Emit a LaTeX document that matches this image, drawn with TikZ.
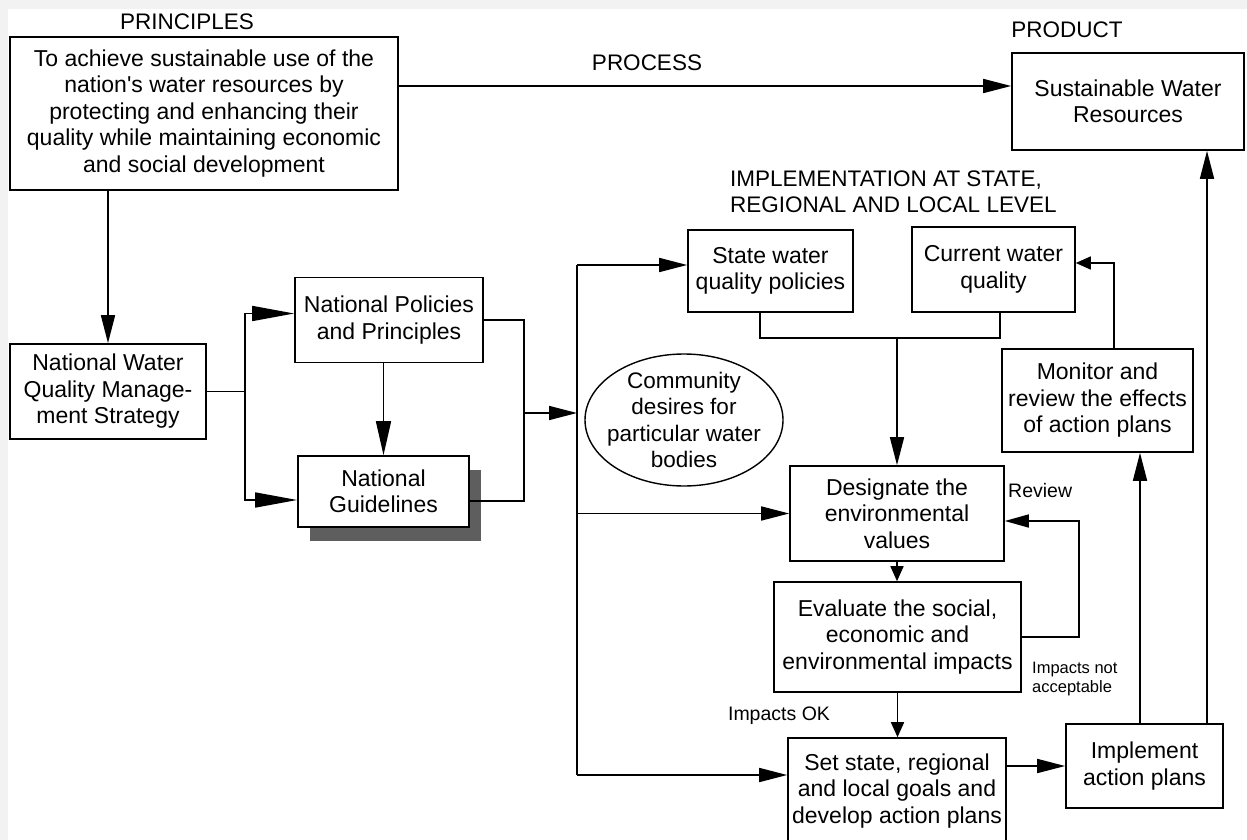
\documentclass[tikz,border=0pt]{standalone}
\usepackage{fontspec}
\setmainfont{Liberation Sans}
\usetikzlibrary{arrows.meta,shadows,shapes.geometric,calc}
\definecolor{bggray}{HTML}{F2F2F2}
\definecolor{shade}{HTML}{5E5E5E}
\tikzset{
  box/.style={draw, line width=1.6pt, fill=white, inner sep=0pt, align=center,
    font=\fontsize{23}{26.5}\selectfont},
  ell/.style={draw, ellipse, line width=1.4pt, fill=white, inner xsep=-12pt, inner ysep=-8pt, align=center,
    font=\fontsize{22.5}{26.5}\selectfont},
  heading/.style={inner sep=0pt, font=\fontsize{22.5}{26}\selectfont},
  conn/.style={line width=1.6pt},
  arr/.style={conn, -{Triangle[length=28pt,width=14pt]}},
  arrb/.style={conn, -{Triangle[length=34pt,width=15pt]}},
  longarr/.style={conn, -{Triangle[length=42pt,width=15pt]}},
  rarr/.style={conn, -{Triangle[length=24pt,width=13pt]}},
  sarr/.style={conn, -{Triangle[length=15pt,width=13pt]}},
}
\begin{document}
\begin{tikzpicture}[x=1pt,y=-1pt]
\useasboundingbox (0,0) rectangle (1247,840);
\clip (0,0) rectangle (1247,840);
\fill[bggray] (0,0) rectangle (1247,840);
\fill[white] (8,9) rectangle (1247,840);

% labels
\node[heading, anchor=base] (lprin) at (187,30) {PRINCIPLES};
\node[heading, anchor=base] (lproc) at (647,71) {PROCESS};
\node[heading, anchor=base] (lprod) at (1067,38) {PRODUCT};
\node[heading, anchor=west, align=left] (limpl) at (730,192) {IMPLEMENTATION AT STATE,\\REGIONAL AND LOCAL LEVEL};

% boxes
\node[box, minimum width=388pt, minimum height=153pt] (princ) at (204,113.5)
  {To achieve sustainable use of the\\nation\textquotesingle s water resources by\\protecting and enhancing their\\quality while maintaining economic\\and social development};
\node[box, minimum width=232pt, minimum height=97pt] (product) at (1128,101.5)
  {Sustainable Water\\Resources};
\node[box, minimum width=196pt, minimum height=95pt] (nwqms) at (108,391.5)
  {National Water\\Quality Manage-\\ment Strategy};
\node[box, minimum width=188pt, minimum height=85pt] (npp) at (389,320)
  {National Policies\\and Principles};
\node[box, minimum width=171pt, minimum height=71pt,
  drop shadow={shadow xshift=12pt, shadow yshift=-14pt, fill=shade, opacity=1}] (ng) at (383.5,491.5)
  {National\\Guidelines};
\node[box, minimum width=165pt, minimum height=82pt] (state) at (770.5,271)
  {State water\\quality policies};
\node[box, minimum width=163pt, minimum height=85pt] (current) at (993.5,269.5)
  {Current water\\quality};
\node[ell, minimum width=198pt, minimum height=132pt] (comm) at (684,420)
  {Community\\desires for\\particular water\\bodies};
\node[box, minimum width=191pt, minimum height=103pt] (monitor) at (1097.5,400.5)
  {Monitor and\\review the effects\\of action plans};
\node[box, minimum width=214pt, minimum height=95pt] (designate) at (897,513.5)
  {Designate the\\environmental\\values};
\node[box, minimum width=247pt, minimum height=110pt] (evaluate) at (897.5,637)
  {Evaluate the social,\\economic and\\environmental impacts};
\node[box, minimum width=218pt, minimum height=106pt] (set) at (897,791)
  {Set state, regional\\and local goals and\\develop action plans};
\node[box, minimum width=157pt, minimum height=84pt] (implement) at (1144.5,766)
  {Implement\\action plans};

% small labels
\node[inner sep=0pt, anchor=base west, font=\fontsize{19.5}{23}\selectfont] (lrev) at (1008,497) {Review};
\node[inner sep=0pt, anchor=base, font=\fontsize{19.5}{23}\selectfont] (lok) at (779,720) {Impacts OK};
\node[inner sep=0pt, anchor=west, align=left, font=\fontsize{16.5}{19}\selectfont] (lnot) at (1032,679) {Impacts not\\acceptable};

% junction coordinates
\coordinate (j1) at (245,391.5);
\coordinate (j2) at (524,413);
\coordinate (bt) at (577,265);
\coordinate (bb) at (577,775);
\coordinate (m) at (897,338);

% connectors
\draw[arr] ([yshift=27.5pt]princ.east) -- ([yshift=27.5pt]princ.east -| product.west);
\draw[arr] (nwqms.north |- princ.south) -- (nwqms.north);
\draw[conn] (nwqms.east) -- (j1);
\draw[longarr] (j1) |- ([yshift=6.5pt]npp.west);
\draw[longarr] (j1) |- ([yshift=-8.5pt]ng.west);
\draw[arrb] (ng.north |- npp.south) -- (ng.north);
\draw[conn] (npp.east) -| (j2);
\draw[conn] ([yshift=-9.5pt]ng.east) -| (j2);
\draw[arr] (j2) -- (j2 -| bt);
\draw[conn] (bt) -- (bb);
\draw[arr] (bt) -- (bt -| state.west);
\draw[arr] (designate.west -| bt) -- (designate.west);
\draw[arr] (bb) -- (bb -| set.west);
\draw[conn] ([xshift=-10.5pt]state.south) |- (m) -| ([xshift=6.5pt]current.south);
\draw[arr] (m) -- (designate.north);
\draw[sarr] (designate.south) -- (designate.south |- evaluate.north);
\draw[rarr] (evaluate.east) -- ++(57,0) |- ([yshift=-7.5pt]designate.east);
\draw[sarr] (evaluate.south) -- (evaluate.south |- set.north);
\draw[arr] (implement.west -| set.east) -- (implement.west);
\draw[arr] ([xshift=-4.5pt]implement.north) -- ([xshift=-4.5pt]implement.north |- monitor.south);
\draw[arr] ([xshift=62.5pt]implement.north) -- ([xshift=62.5pt]implement.north |- product.south);
\draw[sarr] ([xshift=16.5pt]monitor.north) |- ([yshift=6.5pt]current.east);
\end{tikzpicture}
\end{document}
